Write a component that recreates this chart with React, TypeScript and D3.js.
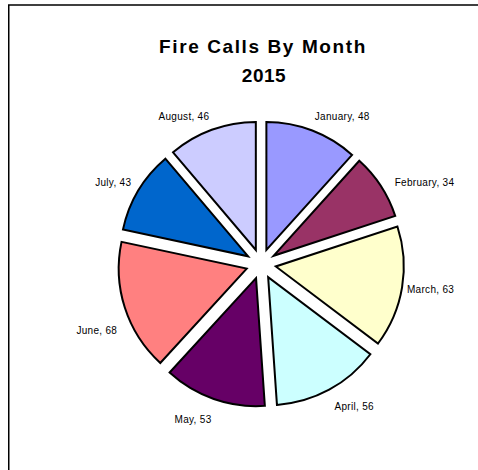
import React from "react";
import * as d3 from "d3";

const months = ["January", "February", "March", "April", "May", "June", "July", "August"];
const calls = [48, 34, 63, 56, 53, 68, 43, 46];
const colors = ["#9999FF", "#993366", "#FFFFCC", "#CCFFFF", "#660066", "#FF8080", "#0066CC", "#CCCCFF"];
const titleLines = ["Fire Calls By Month", "2015"];
// small label nudges (Excel placed labels)
const labelNudgeX = [0, 8, -2, 2, 0, -1, -1, 0];
const labelNudgeY = [-2, 4, 0, 5, 8, 19, -1, -1];

const W = 478;
const H = 470;
const cx = 261;
const cy = 264;
const radius = 128;
const explode = 15;
const labelR = 150;

export default function App() {
  const pie = d3.pie<number>().sort(null).value((d) => d);
  const arcs = pie(calls);
  const arcGen = d3.arc<d3.PieArcDatum<number>>().innerRadius(0).outerRadius(radius);

  return (
    <svg
      width={W}
      height={H}
      style={{ position: "absolute", left: 0, top: 0, background: "#fff" }}
      fontFamily="'Liberation Sans', Arial, sans-serif"
    >
      <rect x={8.75} y={5} width={520} height={480} fill="#fff" stroke="#000" strokeWidth={1.5} />
      <text
        x={263}
        y={53}
        textAnchor="middle"
        fontSize={19}
        fontWeight="bold"
        letterSpacing={1.6}
        fill="#000"
      >
        {titleLines[0]}
      </text>
      <text x={264} y={82} textAnchor="middle" fontSize={19} fontWeight="bold" letterSpacing={0.5} fill="#000">
        {titleLines[1]}
      </text>
      <g transform={`translate(${cx},${cy})`}>
        {arcs.map((a, i) => {
          const mid = (a.startAngle + a.endAngle) / 2;
          const ox = Math.sin(mid) * explode;
          const oy = -Math.cos(mid) * explode;
          return (
            <path
              key={months[i]}
              d={arcGen(a) || ""}
              transform={`translate(${ox},${oy})`}
              fill={colors[i]}
              stroke="#000"
              strokeWidth={2}
              strokeLinejoin="miter"
            />
          );
        })}
        {arcs.map((a, i) => {
          const mid = (a.startAngle + a.endAngle) / 2;
          const s = Math.sin(mid);
          const c = Math.cos(mid);
          const px = s * labelR + labelNudgeX[i];
          const py = -c * labelR - c * 6 + labelNudgeY[i];
          return (
            <text
              key={"l" + months[i]}
              x={px}
              y={py}
              dy="0.35em"
              textAnchor={s >= 0 ? "start" : "end"}
              fontSize={10}
              letterSpacing={0.3}
              fill="#000"
            >
              {`${months[i]}, ${calls[i]}`}
            </text>
          );
        })}
      </g>
    </svg>
  );
}
